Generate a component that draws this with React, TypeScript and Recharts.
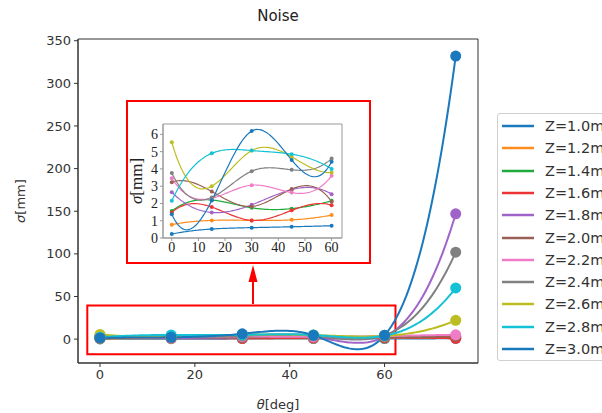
import { LineChart, Line, XAxis, YAxis, ReferenceArea, Label } from "recharts";

// theta positions [deg]
const thetaDeg = [0, 15, 30, 45, 60, 75];

const seriesNames = [
  "Z=1.0m", "Z=1.2m", "Z=1.4m", "Z=1.6m", "Z=1.8m", "Z=2.0m",
  "Z=2.2m", "Z=2.4m", "Z=2.6m", "Z=2.8m", "Z=3.0m",
];
const seriesColors = [
  "#1a78bd", "#ff8c1e", "#1fab3c", "#ec3434", "#a064c8", "#9a5f55",
  "#f07cc8", "#808080", "#bcbd22", "#14c2d6", "#1a78bd",
];

// sigma [mm] at each theta
const z10 = [0.23, 0.52, 0.6, 0.65, 0.71, 1.0];
const z12 = [0.77, 1.02, 1.02, 1.05, 1.33, 1.8];
const z14 = [1.56, 2.2, 1.75, 1.7, 2.15, 2.8];
const z16 = [1.48, 1.79, 1.02, 1.6, 1.9, 1.0];
const z18 = [2.65, 1.48, 1.92, 2.8, 2.54, 147];
const z20 = [3.23, 2.69, 1.83, 2.83, 2.1, 3.5];
const z22 = [3.46, 2.3, 3.06, 2.63, 3.6, 5];
const z24 = [3.77, 2.35, 3.87, 3.95, 4.6, 102];
const z26 = [5.54, 3.0, 5.06, 4.7, 3.79, 22];
const z28 = [2.15, 4.9, 5.06, 4.85, 4.0, 60];
const z30 = [1.38, 2.17, 6.19, 4.52, 4.42, 332];

const allSeries = [z10, z12, z14, z16, z18, z20, z22, z24, z26, z28, z30];

const mainXTicks = [0, 20, 40, 60];
const mainYTicks = [0, 50, 100, 150, 200, 250, 300, 350];
const insetXTicks = [0, 10, 20, 30, 40, 50, 60];
const insetYTicks = [0, 1, 2, 3, 4, 5, 6];

const mainData = thetaDeg.map((t, i) => {
  const row: Record<string, number> = { theta: t };
  allSeries.forEach((s, k) => (row["s" + k] = s[i]));
  return row;
});
const insetData = mainData.filter((d) => d.theta <= 60);

const SANS = "DejaVu Sans, sans-serif";
const SERIF = "Liberation Serif, Times New Roman, serif";
const RED = "#ff0000";

const MX: [number, number] = [-4.64, 79.7];
const MY: [number, number] = [-28, 352];
const IX: [number, number] = [-3.3, 63.9];
const IY: [number, number] = [0, 6.6];

// cubic spline with not-a-knot ends (like scipy's make_interp_spline k=3),
// used as a d3-style curve factory for Recharts
function notAKnotCurve(context: any) {
  let xs: number[] = [];
  let ys: number[] = [];
  return {
    areaStart() {},
    areaEnd() {},
    lineStart() {
      xs = [];
      ys = [];
    },
    point(x: number, y: number) {
      xs.push(+x);
      ys.push(+y);
    },
    lineEnd() {
      const n = xs.length;
      if (!n) return;
      context.moveTo(xs[0], ys[0]);
      if (n < 4) {
        for (let i = 1; i < n; i++) context.lineTo(xs[i], ys[i]);
        return;
      }
      const h: number[] = [];
      for (let i = 0; i < n - 1; i++) h.push(xs[i + 1] - xs[i]);
      const A: number[][] = Array.from({ length: n }, () => new Array(n + 1).fill(0));
      A[0][0] = h[1];
      A[0][1] = -(h[0] + h[1]);
      A[0][2] = h[0];
      for (let i = 1; i < n - 1; i++) {
        A[i][i - 1] = h[i - 1];
        A[i][i] = 2 * (h[i - 1] + h[i]);
        A[i][i + 1] = h[i];
        A[i][n] = 6 * ((ys[i + 1] - ys[i]) / h[i] - (ys[i] - ys[i - 1]) / h[i - 1]);
      }
      A[n - 1][n - 3] = h[n - 2];
      A[n - 1][n - 2] = -(h[n - 3] + h[n - 2]);
      A[n - 1][n - 1] = h[n - 3];
      // gaussian elimination with partial pivoting
      for (let c = 0; c < n; c++) {
        let p = c;
        for (let r = c + 1; r < n; r++) if (Math.abs(A[r][c]) > Math.abs(A[p][c])) p = r;
        [A[c], A[p]] = [A[p], A[c]];
        for (let r = 0; r < n; r++) {
          if (r === c) continue;
          const f = A[r][c] / A[c][c];
          for (let k = c; k <= n; k++) A[r][k] -= f * A[c][k];
        }
      }
      const M = A.map((row, i) => row[n] / row[i]);
      const steps = 30;
      for (let i = 0; i < n - 1; i++) {
        const hi = h[i];
        for (let s = 1; s <= steps; s++) {
          const x = xs[i] + (hi * s) / steps;
          const a = xs[i + 1] - x;
          const b = x - xs[i];
          const y =
            (M[i] * a * a * a) / (6 * hi) +
            (M[i + 1] * b * b * b) / (6 * hi) +
            (ys[i] / hi - (M[i] * hi) / 6) * a +
            (ys[i + 1] / hi - (M[i + 1] * hi) / 6) * b;
          context.lineTo(x, y);
        }
      }
    },
  };
}

export default function App() {
  return (
    <div style={{ position: "absolute", left: 0, top: 0, width: 602, height: 413, overflow: "hidden", background: "#fff" }}>
      <div style={{ position: "absolute", left: 78, width: 400, top: 7, textAlign: "center", fontFamily: SANS, fontSize: 15, color: "#222" }}>
        Noise
      </div>

      <LineChart width={602} height={413} data={mainData} margin={{ top: 39, right: 124, bottom: 0, left: 0 }}>
        <XAxis
          dataKey="theta"
          type="number"
          domain={MX}
          ticks={mainXTicks}
          interval={0}
          allowDataOverflow
          height={50}
          tickSize={4}
          tickMargin={3}
          stroke="#333"
          tick={{ fill: "#333", fontSize: 13, fontFamily: SANS }}
        >
          <Label
            content={(p: any) => (
              <text x={p.viewBox.x + p.viewBox.width / 2} y={p.viewBox.y + 46} textAnchor="middle" fontSize={13} fontFamily={SANS} fill="#333">
                <tspan fontStyle="italic">θ</tspan>[deg]
              </text>
            )}
          />
        </XAxis>
        <YAxis
          type="number"
          domain={MY}
          ticks={mainYTicks}
          interval={0}
          allowDataOverflow
          width={78}
          tickSize={4}
          tickMargin={3}
          stroke="#333"
          tick={{ fill: "#333", fontSize: 13, fontFamily: SANS }}
        >
          <Label
            content={(p: any) => {
              const cx = p.viewBox.x + 25;
              const cy = p.viewBox.y + p.viewBox.height / 2;
              return (
                <text x={cx} y={cy} transform={`rotate(-90 ${cx} ${cy})`} textAnchor="middle" fontSize={13} fontFamily={SANS} fill="#333">
                  <tspan fontStyle="italic">σ</tspan>[mm]
                </text>
              );
            }}
          />
        </YAxis>
        <ReferenceArea x1={MX[0]} x2={MX[1]} y1={MY[0]} y2={MY[1]} fill="none" stroke="#333" strokeWidth={1} />
        {allSeries.map((_, k) => (
          <Line
            key={k}
            type={notAKnotCurve as any}
            dataKey={"s" + k}
            stroke={seriesColors[k]}
            strokeWidth={2}
            dot={{ r: 5.5, fill: seriesColors[k], stroke: seriesColors[k], strokeWidth: 0 }}
            activeDot={false}
            isAnimationActive={false}
          />
        ))}
        <ReferenceArea x1={-2.68} x2={62.3} y1={-17.6} y2={39.5} fill="none" stroke={RED} strokeWidth={2} ifOverflow="visible" />
      </LineChart>

      {/* arrow from highlighted region to inset */}
      <svg style={{ position: "absolute", left: 0, top: 0 }} width={602} height={413} pointerEvents="none">
        <line x1={253} y1={304} x2={253} y2={279} stroke={RED} strokeWidth={2} />
        <polygon points="253,265 248.5,282 257.5,282" fill={RED} />
      </svg>

      {/* inset */}
      <div style={{ position: "absolute", left: 126, top: 100, width: 245, height: 164, boxSizing: "border-box", border: `2px solid ${RED}`, background: "#fff" }} />
      <div style={{ position: "absolute", left: 120, top: 100 }}>
        <LineChart width={250} height={165} data={insetData} margin={{ top: 24, right: 28, bottom: 0, left: 0 }}>
          <XAxis
            dataKey="theta"
            type="number"
            domain={IX}
            ticks={insetXTicks}
            interval={0}
            allowDataOverflow
            height={27}
            tickSize={3}
            tickMargin={1}
            stroke="#999"
            tick={{ fill: "#222", fontSize: 14, fontFamily: SERIF }}
          />
          <YAxis
            type="number"
            domain={IY}
            ticks={insetYTicks}
            interval={0}
            allowDataOverflow
            width={43}
            tickSize={3}
            tickMargin={2}
            stroke="#999"
            tick={{ fill: "#222", fontSize: 14, fontFamily: SERIF }}
          >
            <Label
              content={(p: any) => {
                const cx = p.viewBox.x + 22;
                const cy = p.viewBox.y + p.viewBox.height / 2;
                return (
                  <text x={cx} y={cy} transform={`rotate(-90 ${cx} ${cy})`} textAnchor="middle" fontSize={17} fontFamily={SERIF} fill="#222">
                    <tspan fontStyle="italic">σ</tspan>[mm]
                  </text>
                );
              }}
            />
          </YAxis>
          <ReferenceArea x1={IX[0]} x2={IX[1]} y1={IY[0]} y2={IY[1]} fill="none" stroke="#999" strokeWidth={1} />
          {allSeries.map((_, k) => (
            <Line
              key={k}
              type={notAKnotCurve as any}
              dataKey={"s" + k}
              stroke={seriesColors[k]}
              strokeWidth={1.2}
              dot={{ r: 2, fill: seriesColors[k], stroke: seriesColors[k], strokeWidth: 0 }}
              activeDot={false}
              isAnimationActive={false}
            />
          ))}
        </LineChart>
      </div>

      {/* legend */}
      <div
        style={{
          position: "absolute",
          left: 497,
          top: 113,
          width: 140,
          height: 248,
          boxSizing: "border-box",
          border: "1px solid #d0d0d0",
          borderRadius: 3,
          background: "#fff",
          fontFamily: SANS,
          fontSize: 14.5,
          color: "#333",
        }}
      >
        {seriesNames.map((n, k) => (
          <div key={n} style={{ position: "absolute", left: 0, top: 12 + k * 22.3 - 8, height: 16, display: "flex", alignItems: "center", whiteSpace: "nowrap" }}>
            <svg width={47} height={16}>
              <line x1={4} y1={8} x2={36} y2={8} stroke={seriesColors[k]} strokeWidth={2.5} />
            </svg>
            <span>{n}</span>
          </div>
        ))}
      </div>
    </div>
  );
}
